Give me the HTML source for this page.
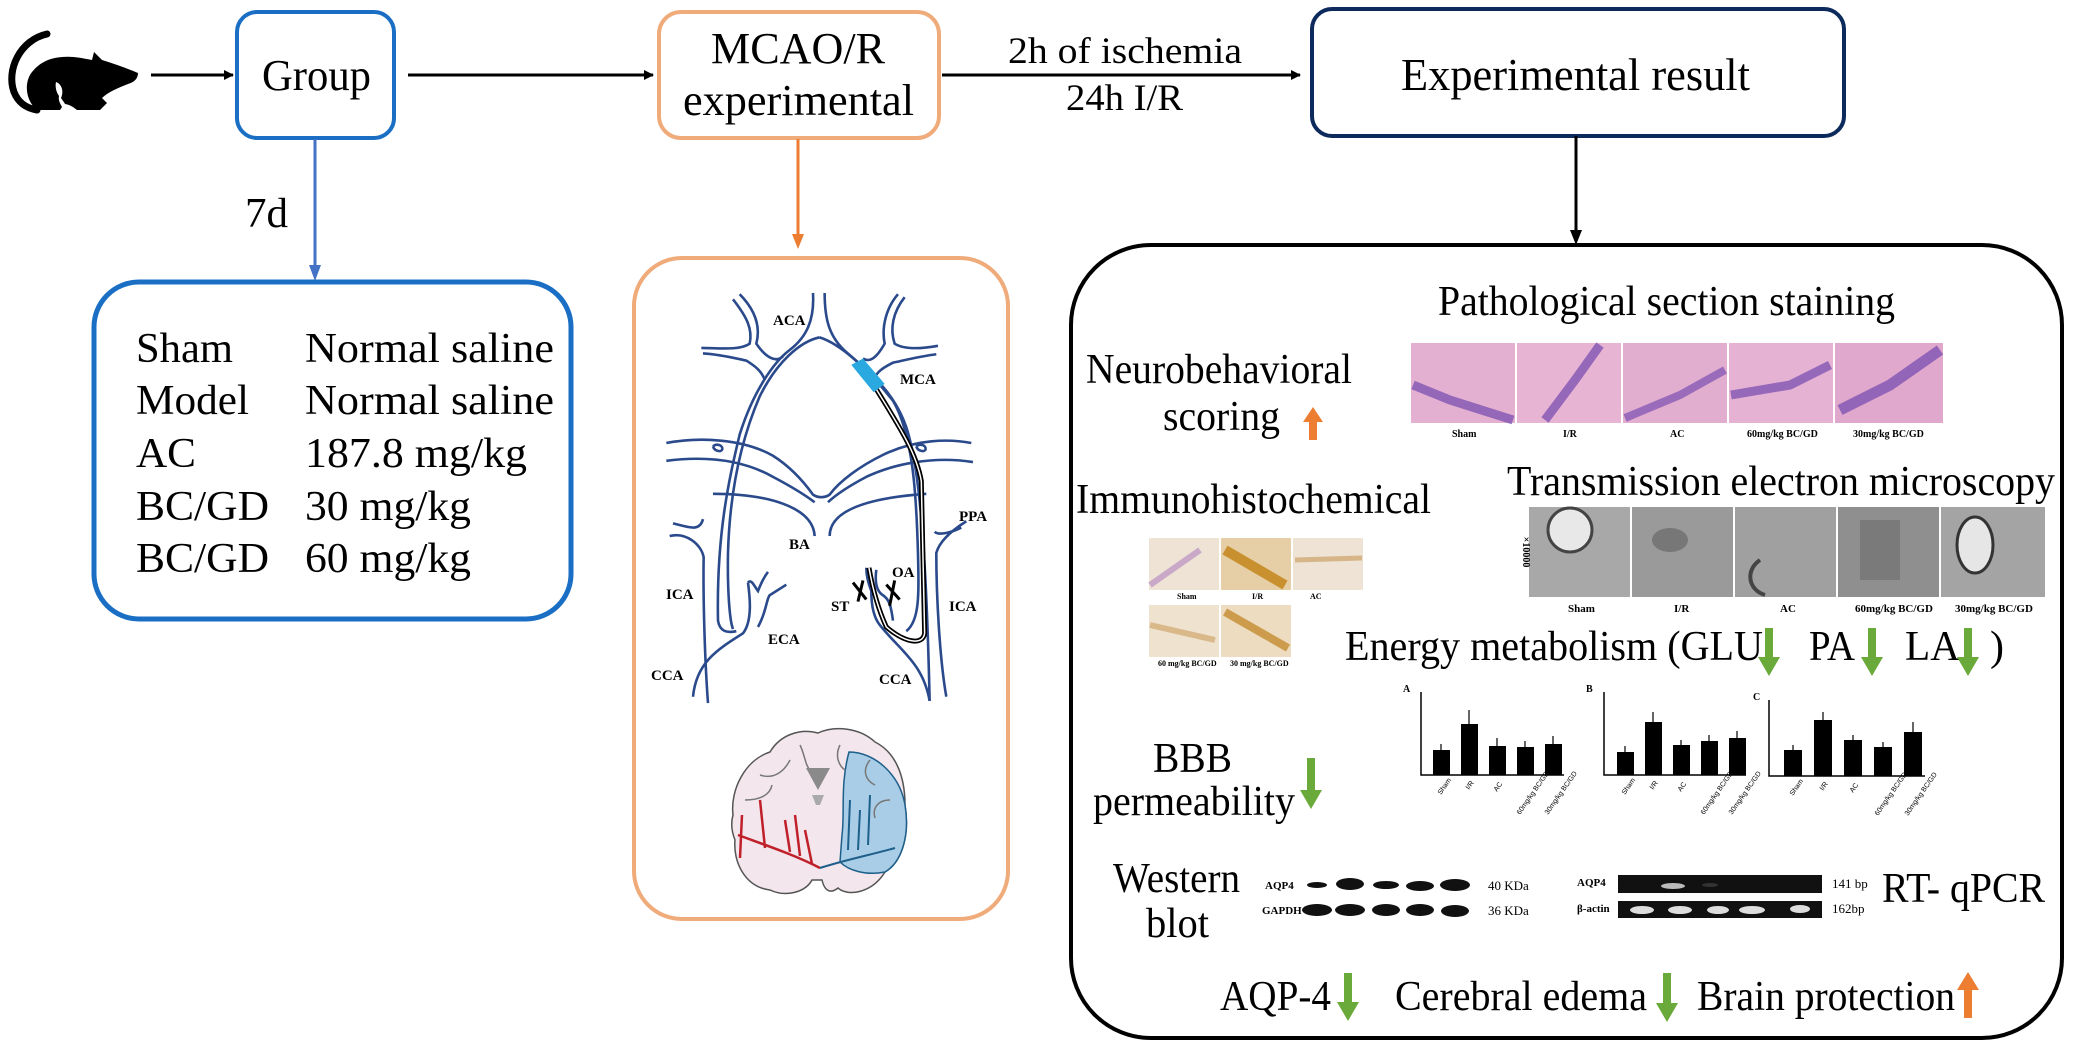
<!DOCTYPE html>
<html><head><meta charset="utf-8"><style>
html,body{margin:0;padding:0;background:#fff;}
svg{display:block;}
text{font-family:"Liberation Serif",serif;fill:#000;}
.b{font-weight:bold;font-family:"Liberation Serif",serif;}
</style></head><body>
<svg width="2079" height="1050" viewBox="0 0 2079 1050" xmlns="http://www.w3.org/2000/svg">
<defs>
<marker id="ak" markerWidth="10" markerHeight="10" refX="9" refY="5" orient="auto" markerUnits="userSpaceOnUse"><path d="M0,0 L10,5 L0,10 Z" fill="#000"/></marker>
</defs>

<!-- mouse -->
<path d="M47,34 C20,40 6,70 14,92 C18,102 25,108 37,110" fill="none" stroke="#000" stroke-width="7" stroke-linecap="round"/>
<path d="M37,110 C25,100 24,82 32,72 C40,62 50,58 62,57 C72,56 82,58 92,60 L94,52 L102,60 C112,63 126,68 138,73 C138,78 135,82 128,84 C118,88 108,92 102,98 L107,103 L100,110 L77,110 C72,106 68,104 64,104 L60,110 Z" fill="#000"/>
<path d="M56,82 C62,84 64,92 61,98 C64,102 66,106 70,110 L64,110 C60,104 58,100 59,96 C56,92 55,86 56,82 Z" fill="#fff"/>

<!-- top arrows -->
<line x1="151" y1="75" x2="233" y2="75" stroke="#000" stroke-width="3" marker-end="url(#ak)"/>
<line x1="408" y1="75" x2="653" y2="75" stroke="#000" stroke-width="3" marker-end="url(#ak)"/>
<line x1="942" y1="75" x2="1300" y2="75" stroke="#000" stroke-width="3" marker-end="url(#ak)"/>

<!-- Group box -->
<rect x="237" y="12" width="157" height="126" rx="20" fill="#fff" stroke="#1a6fc4" stroke-width="4"/>
<text x="262" y="90" font-size="44" textLength="109" lengthAdjust="spacingAndGlyphs">Group</text>

<!-- MCAO box -->
<rect x="659" y="12" width="280" height="126" rx="22" fill="#fff" stroke="#f0ab7a" stroke-width="4"/>
<text x="711" y="63" font-size="44" textLength="174" lengthAdjust="spacingAndGlyphs">MCAO/R</text>
<text x="683" y="115" font-size="44" textLength="231" lengthAdjust="spacingAndGlyphs">experimental</text>

<text x="1008" y="63" font-size="37" textLength="234" lengthAdjust="spacingAndGlyphs">2h of ischemia</text>
<text x="1066" y="110" font-size="37" textLength="117" lengthAdjust="spacingAndGlyphs">24h I/R</text>

<!-- Experimental result box -->
<rect x="1312" y="9" width="532" height="127" rx="20" fill="#fff" stroke="#0d2a5c" stroke-width="4"/>
<text x="1401" y="90" font-size="46" textLength="349" lengthAdjust="spacingAndGlyphs">Experimental result</text>

<!-- vertical connectors -->
<line x1="315" y1="139" x2="315" y2="266" stroke="#4472c4" stroke-width="3"/>
<path d="M309,265 L315,281 L321,265 Z" fill="#4472c4"/>
<text x="245" y="227" font-size="42" textLength="43" lengthAdjust="spacingAndGlyphs">7d</text>
<line x1="798" y1="139" x2="798" y2="236" stroke="#ed7d31" stroke-width="3"/>
<path d="M792,234 L798,249 L804,234 Z" fill="#ed7d31"/>
<line x1="1576" y1="136" x2="1576" y2="232" stroke="#000" stroke-width="3"/>
<path d="M1570,230 L1576,245 L1582,230 Z" fill="#000"/>

<!-- Left group table box -->
<rect x="94" y="282" width="477" height="337" rx="45" fill="#fff" stroke="#1a6fc4" stroke-width="5"/>
<g font-size="42">
<text x="136" y="362" textLength="97" lengthAdjust="spacingAndGlyphs">Sham</text>
<text x="305" y="362" textLength="249" lengthAdjust="spacingAndGlyphs">Normal saline</text>
<text x="136" y="414" textLength="113" lengthAdjust="spacingAndGlyphs">Model</text>
<text x="305" y="414" textLength="249" lengthAdjust="spacingAndGlyphs">Normal saline</text>
<text x="136" y="467" textLength="60" lengthAdjust="spacingAndGlyphs">AC</text>
<text x="305" y="467" textLength="222" lengthAdjust="spacingAndGlyphs">187.8 mg/kg</text>
<text x="136" y="520" textLength="133" lengthAdjust="spacingAndGlyphs">BC/GD</text>
<text x="305" y="520" textLength="166" lengthAdjust="spacingAndGlyphs">30 mg/kg</text>
<text x="136" y="572" textLength="133" lengthAdjust="spacingAndGlyphs">BC/GD</text>
<text x="305" y="572" textLength="166" lengthAdjust="spacingAndGlyphs">60 mg/kg</text>
</g>

<!-- MCAO diagram box -->
<rect x="634" y="258" width="374" height="661" rx="48" fill="#fff" stroke="#f0ab7a" stroke-width="4"/>
<g transform="translate(633,257) scale(0.3333,0.4228)" fill="none" stroke="#2a4a8c" stroke-width="2.6">
<path vector-effect="non-scaling-stroke" d="M540,85 C545,150 520,190 470,220 C420,250 360,320 320,420 C290,520 250,650 255,860 C260,885 280,890 310,885"/>
<path vector-effect="non-scaling-stroke" d="M575,85 C575,150 590,190 640,225 C720,280 800,330 830,430 C860,520 880,700 890,1050"/>
<path vector-effect="non-scaling-stroke" d="M560,190 C500,200 430,250 380,330 C320,440 290,560 285,700 C283,790 290,860 300,880"/>
<path vector-effect="non-scaling-stroke" d="M560,190 C620,205 700,260 780,340 C840,420 850,560 855,700 C858,800 860,860 820,885"/>
<path vector-effect="non-scaling-stroke" d="M300,100 C340,140 360,170 350,205 C320,222 250,215 205,215"/>
<path vector-effect="non-scaling-stroke" d="M320,88 C360,120 385,160 370,205 C400,240 430,250 450,235"/>
<path vector-effect="non-scaling-stroke" d="M210,228 C260,230 310,240 340,245 C370,260 385,270 395,290"/>
<path vector-effect="non-scaling-stroke" d="M815,95 C780,130 770,170 785,205 C820,222 880,215 915,210"/>
<path vector-effect="non-scaling-stroke" d="M795,88 C760,120 745,165 755,205 C730,240 710,250 690,240"/>
<path vector-effect="non-scaling-stroke" d="M910,230 C860,235 810,245 780,250 C750,262 735,270 725,285"/>
<path vector-effect="non-scaling-stroke" d="M100,440 C200,425 330,430 420,470 C480,500 520,540 540,562 C555,570 575,570 590,562 C620,530 680,495 750,468 C850,430 950,430 1015,440"/>
<path vector-effect="non-scaling-stroke" d="M100,482 C220,470 330,480 420,520 C480,545 520,565 545,580"/>
<path vector-effect="non-scaling-stroke" d="M1020,485 C900,470 780,490 700,520 C640,545 605,565 585,580"/>
<path vector-effect="non-scaling-stroke" d="M240,560 C400,560 540,590 545,660"/>
<path vector-effect="non-scaling-stroke" d="M590,660 C590,600 700,570 880,560"/>
<path vector-effect="non-scaling-stroke" d="M240,448 C250,440 270,445 268,455 C265,462 245,460 240,448"/>
<path vector-effect="non-scaling-stroke" d="M850,448 C860,440 880,445 878,455 C875,462 855,460 850,448"/>
<path vector-effect="non-scaling-stroke" d="M225,1055 C215,950 210,800 212,710 C205,680 160,650 110,660"/>
<path vector-effect="non-scaling-stroke" d="M180,1040 C190,960 250,930 330,890 C360,860 350,800 345,770"/>
<path vector-effect="non-scaling-stroke" d="M210,620 C200,650 170,640 120,630"/>
<path vector-effect="non-scaling-stroke" d="M375,875 C400,840 400,810 410,800 C430,790 450,780 460,775"/>
<path vector-effect="non-scaling-stroke" d="M345,770 C355,760 365,780 375,790 C385,770 395,755 405,745"/>
<path vector-effect="non-scaling-stroke" d="M940,1040 C920,950 910,800 910,700 C920,670 960,645 1000,625"/>
<path vector-effect="non-scaling-stroke" d="M905,650 C920,660 960,650 985,640"/>
<path vector-effect="non-scaling-stroke" d="M890,1050 C870,960 800,930 740,870 C720,850 715,820 715,790 C705,770 700,750 700,735"/>
<path vector-effect="non-scaling-stroke" d="M730,740 C725,770 730,790 750,800 C770,810 775,830 780,860"/>
</g>
<!-- catheter -->
<g transform="translate(633,257) scale(0.3333,0.4228)">
<path vector-effect="non-scaling-stroke" d="M720,300 C790,390 850,460 865,530 L875,890 C870,918 820,915 760,875 C740,840 720,790 708,735" fill="none" stroke="#000" stroke-width="5"/>
<path vector-effect="non-scaling-stroke" d="M720,300 C790,390 850,460 865,530 L875,890 C870,918 820,915 760,875 C740,840 720,790 708,735" fill="none" stroke="#fff" stroke-width="1.5"/>
<polygon points="655,255 690,240 755,300 722,320" fill="#29a9e0"/>
<path vector-effect="non-scaling-stroke" d="M660,770 L700,810 M690,765 L675,815 M760,775 L800,810 M785,765 L770,825" stroke="#000" stroke-width="3" fill="none"/>
</g>
<g font-size="15" font-weight="bold">
<text x="773" y="325" class="b">ACA</text>
<text x="900" y="384" class="b">MCA</text>
<text x="959" y="521" class="b">PPA</text>
<text x="789" y="549" class="b">BA</text>
<text x="892" y="577" class="b">OA</text>
<text x="831" y="611" class="b">ST</text>
<text x="666" y="599" class="b">ICA</text>
<text x="949" y="611" class="b">ICA</text>
<text x="768" y="644" class="b">ECA</text>
<text x="651" y="680" class="b">CCA</text>
<text x="879" y="684" class="b">CCA</text>
</g>
<!-- brain -->
<g>
<path d="M733,815 C730,790 745,760 770,752 C780,735 800,728 818,733 C835,725 860,728 875,742 C895,752 905,775 905,805 C910,835 902,862 885,872 C872,893 848,897 838,888 C832,893 825,893 822,880 L812,880 C805,893 785,897 770,890 C745,887 733,862 735,840 C731,830 731,822 733,815 Z" fill="#f3e6ec" stroke="#555" stroke-width="1.5"/>
<path d="M849,752 C875,752 900,775 905,805 C910,835 902,862 885,872 C865,876 848,870 840,862 L842,835 C845,812 840,785 849,752 Z" fill="#a9cde6" stroke="#1d5f8a" stroke-width="1.5"/>
<path d="M760,775 C775,780 785,770 790,760 M745,800 C760,800 770,795 772,785 M800,745 C805,755 805,765 810,770 M840,745 C835,755 838,765 845,770 M870,760 C862,770 865,780 875,785 M890,800 C878,800 872,808 875,818" stroke="#777" stroke-width="1.5" fill="none"/>
<path d="M806,768 L830,768 L818,790 Z" fill="#8a8a8a"/>
<path d="M812,795 L824,795 L820,805 L816,805 Z" fill="#aaa"/>
<path d="M738,835 C765,845 795,855 820,868 M760,800 L765,848 M785,820 L790,852 M795,815 L800,856 M805,830 L812,864 M742,815 L740,858" stroke="#c0202a" stroke-width="2.5" fill="none"/>
<path d="M820,868 C845,860 870,855 895,848 M850,800 L848,850 M860,810 L858,850 M870,795 L868,845" stroke="#1d5f8a" stroke-width="2" fill="none"/>
</g>

<!-- Right big box -->
<rect x="1071" y="245" width="991" height="793" rx="80" fill="#fff" stroke="#000" stroke-width="4"/>

<g font-size="42">
<text x="1438" y="315" textLength="457" lengthAdjust="spacingAndGlyphs">Pathological section staining</text>
<text x="1086" y="383" textLength="266" lengthAdjust="spacingAndGlyphs">Neurobehavioral</text>
<text x="1163" y="430" textLength="117" lengthAdjust="spacingAndGlyphs">scoring</text>
<text x="1507" y="495" textLength="548" lengthAdjust="spacingAndGlyphs">Transmission electron microscopy</text>
<text x="1076" y="513" textLength="355" lengthAdjust="spacingAndGlyphs">Immunohistochemical</text>
<text x="1345" y="660" textLength="418" lengthAdjust="spacingAndGlyphs">Energy metabolism (GLU</text>
<text x="1809" y="660" textLength="46" lengthAdjust="spacingAndGlyphs">PA</text>
<text x="1905" y="660" textLength="55" lengthAdjust="spacingAndGlyphs">LA</text>
<text x="1990" y="660">)</text>
<text x="1153" y="772" textLength="79" lengthAdjust="spacingAndGlyphs">BBB</text>
<text x="1093" y="815" textLength="202" lengthAdjust="spacingAndGlyphs">permeability</text>
<text x="1113" y="892" textLength="127" lengthAdjust="spacingAndGlyphs">Western</text>
<text x="1146" y="937" textLength="63" lengthAdjust="spacingAndGlyphs">blot</text>
<text x="1882" y="902" textLength="163" lengthAdjust="spacingAndGlyphs">RT- qPCR</text>
<text x="1220" y="1010" textLength="111" lengthAdjust="spacingAndGlyphs">AQP-4</text>
<text x="1395" y="1010" textLength="252" lengthAdjust="spacingAndGlyphs">Cerebral edema</text>
<text x="1697" y="1010" textLength="258" lengthAdjust="spacingAndGlyphs">Brain protection</text>
</g>

<!-- arrows green/orange -->
<g fill="#6aaa3a">
<polygon points="1765,628 1773,628 1773,657 1780,657 1769,676 1758,657 1765,657"/>
<polygon points="1868,628 1876,628 1876,657 1883,657 1872,676 1861,657 1868,657"/>
<polygon points="1964,628 1972,628 1972,657 1979,657 1968,676 1957,657 1964,657"/>
<polygon points="1307,758 1315,758 1315,790 1322,790 1311,809 1300,790 1307,790"/>
<polygon points="1344,973 1352,973 1352,1002 1359,1002 1348,1021 1337,1002 1344,1002"/>
<polygon points="1663,973 1671,973 1671,1003 1678,1003 1667,1022 1656,1003 1663,1003"/>
</g>
<g fill="#ed7d31">
<polygon points="1309,440 1317,440 1317,422 1323,422 1313,407 1303,422 1309,422"/>
<polygon points="1964,1018 1972,1018 1972,990 1979,990 1968,972 1957,990 1964,990"/>
</g>

<!-- histology strip -->
<g>
<rect x="1411" y="343" width="104" height="80" fill="#e4b0d2"/>
<rect x="1517" y="343" width="104" height="80" fill="#e8b4d4"/>
<rect x="1623" y="343" width="104" height="80" fill="#e2aed0"/>
<rect x="1729" y="343" width="104" height="80" fill="#e6b2d3"/>
<rect x="1835" y="343" width="108" height="80" fill="#e0a8cd"/>
<path d="M1413,385 L1450,400 L1513,420" stroke="#7a4fb0" stroke-width="9" fill="none" opacity="0.75"/>
<path d="M1545,420 L1575,380 L1600,345" stroke="#7a4fb0" stroke-width="9" fill="none" opacity="0.75"/>
<path d="M1625,418 L1680,395 L1725,370" stroke="#7a4fb0" stroke-width="8" fill="none" opacity="0.7"/>
<path d="M1731,395 L1790,385 L1830,365" stroke="#7a4fb0" stroke-width="9" fill="none" opacity="0.75"/>
<path d="M1840,410 L1890,385 L1940,350" stroke="#7a4fb0" stroke-width="11" fill="none" opacity="0.75"/>
</g>
<g font-size="10" font-weight="bold">
<text x="1452" y="437" class="b">Sham</text>
<text x="1563" y="437" class="b">I/R</text>
<text x="1670" y="437" class="b">AC</text>
<text x="1747" y="437" class="b">60mg/kg BC/GD</text>
<text x="1853" y="437" class="b">30mg/kg BC/GD</text>
</g>

<!-- TEM strip -->
<g>
<rect x="1529" y="507" width="101" height="90" fill="#a8a8a8"/>
<rect x="1632" y="507" width="101" height="90" fill="#9a9a9a"/>
<rect x="1735" y="507" width="101" height="90" fill="#a0a0a0"/>
<rect x="1838" y="507" width="101" height="90" fill="#8f8f8f"/>
<rect x="1941" y="507" width="104" height="90" fill="#a4a4a4"/>
<ellipse cx="1570" cy="530" rx="22" ry="22" fill="#e8e8e8" stroke="#444" stroke-width="3"/>
<ellipse cx="1670" cy="540" rx="18" ry="12" fill="#777"/>
<path d="M1760,560 C1745,570 1748,590 1765,595" stroke="#444" stroke-width="4" fill="none"/>
<rect x="1860" y="520" width="40" height="60" fill="#7a7a7a"/>
<ellipse cx="1975" cy="545" rx="18" ry="28" fill="#e6e6e6" stroke="#333" stroke-width="3"/>
</g>
<text x="1523" y="552" font-size="10" class="b" font-weight="bold" transform="rotate(90 1523 552)" text-anchor="middle">×10000</text>
<g font-size="11" font-weight="bold">
<text x="1568" y="612" class="b">Sham</text>
<text x="1674" y="612" class="b">I/R</text>
<text x="1780" y="612" class="b">AC</text>
<text x="1855" y="612" class="b">60mg/kg BC/GD</text>
<text x="1955" y="612" class="b">30mg/kg BC/GD</text>
</g>

<!-- IHC -->
<g>
<rect x="1149" y="538" width="70" height="52" fill="#efe3d6"/>
<rect x="1221" y="538" width="70" height="52" fill="#e6cfa6"/>
<rect x="1293" y="538" width="70" height="52" fill="#eee3d4"/>
<path d="M1150,585 L1200,550" stroke="#c9a8c8" stroke-width="6"/>
<path d="M1225,550 L1285,585" stroke="#c8902e" stroke-width="10"/>
<path d="M1295,560 L1362,558" stroke="#d6b588" stroke-width="5"/>
<rect x="1149" y="605" width="70" height="52" fill="#efe2cf"/>
<rect x="1221" y="605" width="70" height="52" fill="#eddcbf"/>
<path d="M1150,625 L1215,640" stroke="#d9b98a" stroke-width="6"/>
<path d="M1225,612 L1288,648" stroke="#cc9c4c" stroke-width="8"/>
</g>
<g font-size="8" font-weight="bold">
<text x="1177" y="599" class="b">Sham</text>
<text x="1252" y="599" class="b">I/R</text>
<text x="1310" y="599" class="b">AC</text>
<text x="1158" y="666" class="b">60 mg/kg BC/GD</text>
<text x="1230" y="666" class="b">30 mg/kg BC/GD</text>
</g>

<!-- Charts -->
<g stroke="#000" stroke-width="1.5" fill="none">
<path d="M1421,692 L1421,775 L1564,775"/>
<path d="M1604,692 L1604,775 L1746,775"/>
<path d="M1769,700 L1769,776 L1925,776"/>
</g>
<g fill="#000">
<rect x="1433" y="750" width="17" height="25"/>
<rect x="1461" y="724" width="17" height="51"/>
<rect x="1489" y="746" width="17" height="29"/>
<rect x="1517" y="747" width="17" height="28"/>
<rect x="1545" y="744" width="17" height="31"/>
<rect x="1617" y="752" width="17" height="23"/>
<rect x="1645" y="722" width="17" height="53"/>
<rect x="1673" y="745" width="17" height="30"/>
<rect x="1701" y="741" width="17" height="34"/>
<rect x="1729" y="738" width="17" height="37"/>
<rect x="1784" y="750" width="18" height="26"/>
<rect x="1814" y="720" width="18" height="56"/>
<rect x="1844" y="740" width="18" height="36"/>
<rect x="1874" y="747" width="18" height="29"/>
<rect x="1904" y="732" width="18" height="44"/>
</g>
<g stroke="#000" stroke-width="1.2">
<path d="M1441,750 V744 M1469,724 V710 M1497,746 V738 M1525,747 V741 M1553,744 V736"/>
<path d="M1625,752 V746 M1653,722 V712 M1681,745 V740 M1709,741 V735 M1737,738 V731"/>
<path d="M1793,750 V745 M1823,720 V712 M1853,740 V735 M1883,747 V742 M1913,732 V722"/>
</g>
<g font-size="10" font-weight="bold">
<text x="1403" y="692" class="b">A</text>
<text x="1586" y="692" class="b">B</text>
<text x="1753" y="700" class="b">C</text>
</g>
<g font-size="7">
<text transform="translate(1441,795) rotate(-55)" style="font-family:'Liberation Sans',sans-serif">Sham</text>
<text transform="translate(1469,790) rotate(-55)" style="font-family:'Liberation Sans',sans-serif">I/R</text>
<text transform="translate(1497,792) rotate(-55)" style="font-family:'Liberation Sans',sans-serif">AC</text>
<text transform="translate(1520,815) rotate(-55)" style="font-family:'Liberation Sans',sans-serif">60mg/kg BC/GD</text>
<text transform="translate(1548,815) rotate(-55)" style="font-family:'Liberation Sans',sans-serif">30mg/kg BC/GD</text>
<text transform="translate(1625,795) rotate(-55)" style="font-family:'Liberation Sans',sans-serif">Sham</text>
<text transform="translate(1653,790) rotate(-55)" style="font-family:'Liberation Sans',sans-serif">I/R</text>
<text transform="translate(1681,792) rotate(-55)" style="font-family:'Liberation Sans',sans-serif">AC</text>
<text transform="translate(1704,815) rotate(-55)" style="font-family:'Liberation Sans',sans-serif">60mg/kg BC/GD</text>
<text transform="translate(1732,815) rotate(-55)" style="font-family:'Liberation Sans',sans-serif">30mg/kg BC/GD</text>
<text transform="translate(1793,796) rotate(-55)" style="font-family:'Liberation Sans',sans-serif">Sham</text>
<text transform="translate(1823,791) rotate(-55)" style="font-family:'Liberation Sans',sans-serif">I/R</text>
<text transform="translate(1853,793) rotate(-55)" style="font-family:'Liberation Sans',sans-serif">AC</text>
<text transform="translate(1878,816) rotate(-55)" style="font-family:'Liberation Sans',sans-serif">60mg/kg BC/GD</text>
<text transform="translate(1908,816) rotate(-55)" style="font-family:'Liberation Sans',sans-serif">30mg/kg BC/GD</text>
</g>

<!-- Western blot / PCR -->
<g font-size="11" font-weight="bold">
<text x="1265" y="889" class="b">AQP4</text>
<text x="1262" y="914" class="b">GAPDH</text>
<text x="1577" y="886" class="b">AQP4</text>
<text x="1577" y="912" class="b">β-actin</text>
</g>
<g font-size="13">
<text x="1488" y="890" fill="#444">40 KDa</text>
<text x="1488" y="915" fill="#444">36 KDa</text>
<text x="1832" y="888" fill="#444">141 bp</text>
<text x="1832" y="913" fill="#444">162bp</text>
</g>
<g fill="#111">
<ellipse cx="1317" cy="885" rx="10" ry="3"/>
<ellipse cx="1350" cy="884" rx="14" ry="6"/>
<ellipse cx="1386" cy="885" rx="13" ry="4"/>
<ellipse cx="1420" cy="886" rx="14" ry="5"/>
<ellipse cx="1455" cy="885" rx="15" ry="6"/>
<ellipse cx="1317" cy="910" rx="15" ry="6"/>
<ellipse cx="1350" cy="910" rx="15" ry="6"/>
<ellipse cx="1386" cy="910" rx="14" ry="6"/>
<ellipse cx="1420" cy="910" rx="14" ry="6"/>
<ellipse cx="1455" cy="911" rx="14" ry="6"/>
<rect x="1618" y="875" width="204" height="18"/>
<rect x="1618" y="901" width="204" height="17"/>
</g>
<g fill="#ddd">
<ellipse cx="1673" cy="886" rx="12" ry="3" fill="#bbb"/>
<ellipse cx="1710" cy="885" rx="8" ry="2" fill="#333"/>
<ellipse cx="1642" cy="910" rx="12" ry="4"/>
<ellipse cx="1680" cy="910" rx="12" ry="4"/>
<ellipse cx="1718" cy="910" rx="11" ry="4"/>
<ellipse cx="1752" cy="910" rx="13" ry="4"/>
<ellipse cx="1800" cy="909" rx="10" ry="4"/>
</g>
</svg>
</body></html>
